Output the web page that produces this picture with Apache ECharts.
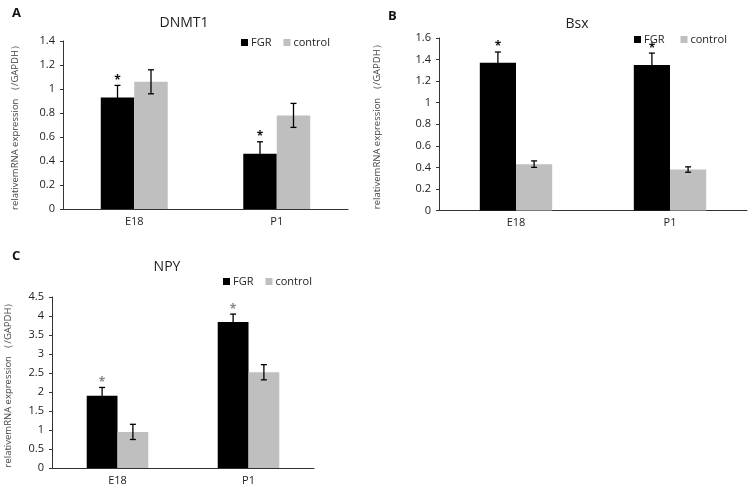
<!DOCTYPE html>
<html>
<head>
<meta charset="utf-8">
<script src="https://cdn.jsdelivr.net/npm/echarts@6/dist/echarts.min.js"></script>
<style>
html,body{margin:0;padding:0;background:#fff;}
#main{width:749px;height:492px;}
</style>
</head>
<body>
<div id="main"></div>
<script>
// 数据
var categories = ['E18', 'P1'];
var dnmt1FGR = [0.93, 0.46];
var dnmt1FGRErr = [0.1, 0.1];
var dnmt1Ctrl = [1.06, 0.78];
var dnmt1CtrlErr = [0.1, 0.1];
var bsxFGR = [1.37, 1.35];
var bsxFGRErr = [0.1, 0.11];
var bsxCtrl = [0.43, 0.38];
var bsxCtrlErr = [0.03, 0.025];
var npyFGR = [1.9, 3.84];
var npyFGRErr = [0.22, 0.21];
var npyCtrl = [0.95, 2.52];
var npyCtrlErr = [0.2, 0.2];

var yName = 'relativemRNA expression （/GAPDH）';
var font = 'Open Sans, Liberation Sans, sans-serif';
var catGap = 0.53;

var chart = echarts.init(document.getElementById('main'));

function errData(vals, errs) {
    var out = [];
    for (var i = 0; i < vals.length; i++) {
        out.push([i, vals[i], errs[i]]);
    }
    return out;
}

// 误差线 side: -1 FGR, 1 control
function errSeries(idx, vals, errs, side, star, starColor) {
    return {
        type: 'custom',
        xAxisIndex: idx,
        yAxisIndex: idx,
        z: 5,
        silent: true,
        data: errData(vals, errs),
        renderItem: function (params, api) {
            var i = api.value(0), v = api.value(1), e = api.value(2);
            var bw = api.size([1, 0])[0] * (1 - catGap) / 2;
            var c = api.coord([i, v]);
            var x = c[0] + side * bw / 2;
            var top = api.coord([i, v + e])[1];
            var bot = api.coord([i, v - e])[1];
            var st = {stroke: '#000', lineWidth: 1.3};
            var kids = [
                {type: 'line', shape: {x1: x, y1: top, x2: x, y2: bot}, style: st},
                {type: 'line', shape: {x1: x - 3, y1: top, x2: x + 3, y2: top}, style: st},
                {type: 'line', shape: {x1: x - 3, y1: bot, x2: x + 3, y2: bot}, style: st}
            ];
            if (star) {
                kids.push({type: 'text', style: {text: '*', x: x, y: top - 5, align: 'center', verticalAlign: 'middle',
                    fill: starColor, font: 'bold 12px ' + font}});
            }
            return {type: 'group', children: kids};
        }
    };
}

function barSeries(idx, name, vals, color) {
    return {
        name: name,
        type: 'bar',
        xAxisIndex: idx,
        yAxisIndex: idx,
        data: vals,
        barGap: '0%',
        barCategoryGap: (catGap * 100) + '%',
        itemStyle: {color: color},
        z: 2
    };
}

function xAxis(idx) {
    return {
        type: 'category',
        gridIndex: idx,
        data: categories,
        axisLine: {lineStyle: {color: '#333', width: 1}},
        axisTick: {alignWithLabel: true, length: 4, lineStyle: {color: '#333'}},
        axisLabel: {color: '#222', fontSize: 11, fontFamily: font, margin: 7}
    };
}

function yAxis(idx, max, interval, gap) {
    return {
        type: 'value',
        gridIndex: idx,
        min: 0,
        max: max,
        interval: interval,
        name: yName,
        nameLocation: 'middle',
        nameGap: gap,
        nameTextStyle: {fontSize: 9.5, color: '#444', fontFamily: font},
        splitLine: {show: false},
        axisLine: {show: true, lineStyle: {color: '#333', width: 1}},
        axisTick: {show: true, length: 3, lineStyle: {color: '#333'}},
        axisLabel: {color: '#222', fontSize: 11, fontFamily: font, margin: 8}
    };
}

function legend(left, top, gap) {
    return {
        left: left, top: top, padding: 0,
        itemWidth: 7, itemHeight: 7, itemGap: gap,
        icon: 'rect',
        data: ['FGR', 'control'],
        textStyle: {fontSize: 11, color: '#222', fontFamily: font, padding: [0, 0, 0, -2]},
        selectedMode: false
    };
}

var option = {
    backgroundColor: '#fff',
    animation: false,
    title: [
        {text: 'A', left: 7, top: 2, textStyle: {fontSize: 13, fontWeight: 'bold', color: '#111', fontFamily: font}},
        {text: 'B', left: 383, top: 5, textStyle: {fontSize: 13, fontWeight: 'bold', color: '#111', fontFamily: font}},
        {text: 'C', left: 7, top: 245, textStyle: {fontSize: 13, fontWeight: 'bold', color: '#111', fontFamily: font}},
        {text: 'DNMT1', left: 179, top: 11, textAlign: 'center', textStyle: {fontSize: 14, fontWeight: 'normal', color: '#222', fontFamily: font}},
        {text: 'Bsx', left: 572, top: 12, textAlign: 'center', textStyle: {fontSize: 14, fontWeight: 'normal', color: '#222', fontFamily: font}},
        {text: 'NPY', left: 162, top: 255, textAlign: 'center', textStyle: {fontSize: 14, fontWeight: 'normal', color: '#222', fontFamily: font}}
    ],
    legend: [legend(241, 37, 12), legend(634, 34, 16), legend(223, 276, 12)],
    grid: [
        {left: 63, top: 41, width: 285, height: 168},
        {left: 439, top: 38, width: 308, height: 172.5},
        {left: 52, top: 297, width: 262, height: 171}
    ],
    xAxis: [xAxis(0), xAxis(1), xAxis(2)],
    yAxis: [yAxis(0, 1.4, 0.2, 43), yAxis(1, 1.6, 0.2, 57), yAxis(2, 4.5, 0.5, 39)],
    series: [
        barSeries(0, 'FGR', dnmt1FGR, '#000'),
        barSeries(0, 'control', dnmt1Ctrl, '#bfbfbf'),
        errSeries(0, dnmt1FGR, dnmt1FGRErr, -1, true, '#111'),
        errSeries(0, dnmt1Ctrl, dnmt1CtrlErr, 1, false),
        barSeries(1, 'FGR', bsxFGR, '#000'),
        barSeries(1, 'control', bsxCtrl, '#bfbfbf'),
        errSeries(1, bsxFGR, bsxFGRErr, -1, true, '#111'),
        errSeries(1, bsxCtrl, bsxCtrlErr, 1, false),
        barSeries(2, 'FGR', npyFGR, '#000'),
        barSeries(2, 'control', npyCtrl, '#bfbfbf'),
        errSeries(2, npyFGR, npyFGRErr, -1, true, '#888'),
        errSeries(2, npyCtrl, npyCtrlErr, 1, false)
    ]
};

chart.setOption(option);
</script>
</body>
</html>
